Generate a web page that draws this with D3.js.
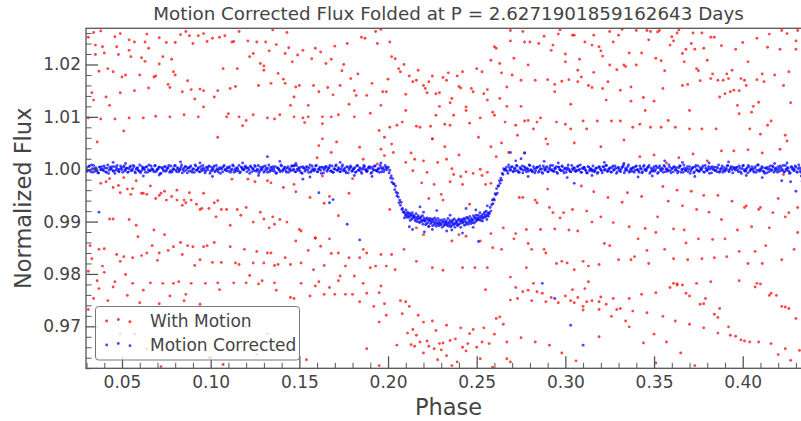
<!DOCTYPE html>
<html>
<head>
<meta charset="utf-8">
<script src="https://cdn.jsdelivr.net/npm/d3@7"></script>
<style>
  body { margin: 0; background: #fff; }
  svg text { font-family: "DejaVu Sans", sans-serif; fill: #444; }
</style>
</head>
<body>
<svg id="chart" width="801" height="421"></svg>
<script>
const title = "Motion Corrected Flux Folded at P = 2.6271901859162643 Days";
const xLabel = "Phase";
const yLabel = "Normalized Flux";
const seriesNames = ["With Motion", "Motion Corrected"];
const seriesColors = ["#ff0000", "#0000ff"];

const phaseRange = [0.0297, 0.4385];
const fluxRange = [0.96198, 1.02691];
const xTicks = [0.05, 0.10, 0.15, 0.20, 0.25, 0.30, 0.35, 0.40];
const yTicks = [0.97, 0.98, 0.99, 1.00, 1.01, 1.02];

// red: flux with the motion systematics left in
const withMotion = [
[.031,1.0252],[.034,1.0261],[.038,1.0264],[.035,1.0237],[.035,1.0219],[.037,1.0187],[.033,1.0146],[.034,1.0132],[.031,1.0098],[.038,1.0096],
[.041,1.0138],[.043,1.0122],[.040,1.0222],[.039,1.0234],[.042,1.0192],[.045,1.0186],[.046,1.0253],[.048,1.0219],[.047,1.0234],[.049,1.0259],
[.050,1.0176],[.052,1.0180],[.049,1.0146],[.046,1.0096],[.051,1.0073],[.054,1.0098],[.054,1.0227],[.054,1.0247],[.055,1.0215],[.057,1.0150],
[.057,1.0243],[.060,1.0180],[.061,1.0213],[.062,1.0098],[.063,1.0243],[.064,1.0258],[.063,1.0206],[.065,1.0155],[.065,1.0231],[.068,1.0176],
[.069,1.0178],[.069,1.0101],[.071,1.0251],[.071,1.0201],[.073,1.0215],[.075,1.0242],[.076,1.0162],[.077,1.0156],[.077,1.0100],[.078,1.0210],
[.079,1.0186],[.080,1.0180],[.080,1.0242],[.083,1.0257],[.084,1.0148],[.085,1.0104],[.086,1.0263],[.087,1.0169],[.088,1.0255],[.090,1.0240],
[.089,1.0152],[.091,1.0134],[.093,1.0100],[.093,1.0255],[.094,1.0153],[.096,1.0150],[.096,1.0119],[.098,1.0244],[.096,1.0259],[.101,1.0250],
[.102,1.0138],[.104,1.0150],[.104,1.0061],[.105,1.0252],[.107,1.0192],[.108,1.0255],[.109,1.0100],[.110,1.0106],[.111,1.0154],[.112,1.0243],
[.113,1.0244],[.114,1.0158],[.115,1.0192],[.116,1.0263],[.116,1.0100],[.118,1.0083],[.120,1.0093],[.121,1.0245],[.122,1.0215],[.124,1.0104],
[.124,1.0221],[.126,1.0243],[.127,1.0160],[.128,1.0202],[.130,1.0197],[.131,1.0243],[.132,1.0098],[.130,1.0189],[.133,1.0226],[.134,1.0164],
[.135,1.0266],[.137,1.0238],[.136,1.0096],[.138,1.0183],[.139,1.0104],[.141,1.0172],[.142,1.0221],[.142,1.0164],[.143,1.0261],[.144,1.0232],
[.145,1.0122],[.146,1.0205],[.147,1.0138],[.147,1.0100],[.148,1.0157],[.149,1.0218],[.150,1.0160],[.152,1.0098],[.152,1.0227],[.153,1.0089],
[.155,1.0100],[.155,1.0122],[.157,1.0211],[.158,1.0160],[.159,1.0231],[.161,1.0148],[.162,1.0224],[.163,1.0100],[.163,1.0087],[.165,1.0202],
[.166,1.0156],[.168,1.0210],[.168,1.0100],[.169,1.0142],[.170,1.0235],[.172,1.0104],[.173,1.0160],[.174,1.0188],[.175,1.0200],[.177,1.0240],
[.178,1.0124],[.179,1.0173],[.181,1.0100],[.181,1.0150],[.182,1.0141],[.183,1.0182],[.185,1.0252],[.187,1.0250],[.188,1.0141],[.190,1.0107],
[.191,1.0164],[.193,1.0263],[.194,1.0240],[.196,1.0122],[.197,1.0148],[.199,1.0148],[.200,1.0172],[.201,1.0243],[.202,1.0215],[.204,1.0211],
[.206,1.0192],[.196,1.0267],[.198,1.0061],[.195,1.0074],[.201,1.0080],[.205,1.0084],[.163,1.0058],
[.209,1.0200],[.207,1.0186],[.212,1.0178],[.214,1.0167],[.216,1.0170],[.217,1.0189],[.210,1.0143],[.210,1.0112],[.208,1.0090],[.216,1.0082],
[.218,1.0080],[.220,1.0160],[.221,1.0154],[.222,1.0146],[.223,1.0167],[.225,1.0178],[.224,1.0082],[.225,1.0058],[.227,1.0144],[.229,1.0146],
[.229,1.0120],[.227,1.0103],[.231,1.0175],[.232,1.0086],[.233,1.0170],[.234,1.0184],[.235,1.0127],[.236,1.0135],[.235,1.0084],[.237,1.0103],
[.239,1.0178],[.240,1.0158],[.241,1.0155],[.242,1.0186],[.244,1.0112],[.244,1.0119],[.246,1.0088],[.247,1.0154],[.248,1.0148],[.250,1.0192],
[.251,1.0061],[.252,1.0098],[.253,1.0186],[.254,1.0144],[.256,1.0152],[.256,1.0132],[.258,1.0208],[.259,1.0109],[.260,1.0103],[.260,1.0234],
[.261,1.0231],[.263,1.0202],[.263,1.0135],[.264,1.0184],[.266,1.0090],[.267,1.0157],[.267,1.0120],[.269,1.0245],[.269,1.0265],[.271,1.0212],
[.272,1.0084],[.270,1.0180],[.273,1.0065],[.275,1.0170],[.275,1.0120],[.276,1.0263],[.277,1.0092],[.277,1.0243],[.279,1.0199],[.279,1.0093],
[.280,1.0243],[.282,1.0077],[.283,1.0170],[.284,1.0090],[.285,1.0240],[.286,1.0098],[.288,1.0254],[.289,1.0058],[.290,1.0171],[.292,1.0227],
[.293,1.0237],[.294,1.0162],[.294,1.0148],[.295,1.0090],[.296,1.0258],[.297,1.0266],[.298,1.0168],[.300,1.0205],[.300,1.0220],[.300,1.0086],
[.302,1.0171],[.303,1.0124],[.303,1.0077],[.304,1.0256],[.305,1.0256],[.307,1.0167],[.307,1.0189],[.308,1.0210],[.309,1.0176],[.310,1.0092],
[.311,1.0243],[.312,1.0077],[.313,1.0160],[.315,1.0237],[.315,1.0156],[.316,1.0185],[.316,1.0256],[.318,1.0092],[.319,1.0234],[.320,1.0226],
[.321,1.0216],[.321,1.0154],[.323,1.0132],[.324,1.0167],[.325,1.0263],[.325,1.0199],[.326,1.0092],[.327,1.0243],[.329,1.0190],[.330,1.0256],
[.331,1.0151],[.331,1.0092],[.332,1.0267],[.333,1.0199],[.334,1.0196],[.336,1.0222],[.337,1.0157],[.337,1.0130],[.338,1.0080],[.340,1.0265],
[.340,1.0199],[.342,1.0086],[.343,1.0222],[.344,1.0137],[.345,1.0112],[.346,1.0265],[.347,1.0247],[.348,1.0080],[.348,1.0263],[.350,1.0130],
[.351,1.0212],[.352,1.0262],[.353,1.0265],[.354,1.0207],[.354,1.0080],[.355,1.0154],[.356,1.0188],[.358,1.0093],[.359,1.0237],[.360,1.0253],
[.361,1.0245],[.362,1.0080],[.363,1.0260],[.364,1.0266],[.366,1.0160],[.366,1.0221],[.367,1.0205],[.368,1.0229],[.369,1.0162],[.370,1.0112],
[.370,1.0077],[.371,1.0240],[.372,1.0260],[.373,1.0229],[.374,1.0192],[.375,1.0188],[.376,1.0169],[.377,1.0260],[.377,1.0077],[.378,1.0231],
[.380,1.0208],[.382,1.0252],[.382,1.0173],[.383,1.0182],[.384,1.0252],[.385,1.0077],[.386,1.0170],[.387,1.0138],[.388,1.0236],[.389,1.0170],
[.390,1.0144],[.391,1.0182],[.392,1.0173],[.393,1.0148],[.394,1.0189],[.395,1.0151],[.396,1.0229],[.397,1.0122],[.398,1.0106],[.398,1.0150],
[.399,1.0173],[.400,1.0242],[.401,1.0170],[.402,1.0160],[.403,1.0205],[.404,1.0077],[.405,1.0109],[.406,1.0120],[.408,1.0171],[.408,1.0250],
[.409,1.0128],[.410,1.0067],[.411,1.0182],[.412,1.0167],[.414,1.0233],[.414,1.0084],[.415,1.0258],[.416,1.0092],[.418,1.0180],[.421,1.0229],
[.422,1.0265],[.423,1.0160],[.424,1.0065],[.425,1.0259],[.426,1.0186],[.427,1.0127],[.430,1.0229],[.430,1.0245],[.431,1.0265],
[.036,1.0052],[.038,.9973],[.041,.9976],[.043,.9982],[.045,.9965],[.048,.9969],[.049,.9955],[.051,.9984],[.053,.9962],[.055,.9952],
[.056,.9963],[.058,.9978],[.061,.9954],[.062,.9954],[.064,.9952],[.066,.9968],[.069,.9944],[.071,.9950],[.072,.9954],[.074,.9958],
[.075,.9941],[.078,.9948],[.081,.9960],[.081,.9941],[.084,.9931],[.085,.9941],[.086,.9936],[.088,.9955],[.089,.9941],[.092,.9933],
[.094,.9923],[.095,.9925],[.096,.9954],[.099,.9925],[.102,.9936],[.103,.9909],[.104,.9940],[.106,.9923],[.109,.9923],[.111,.9893],
[.112,.9981],[.115,.9923],[.117,.9912],[.120,.9927],[.121,.9981],[.124,.9899],[.125,.9976],[.128,.9918],[.130,.9905],[.132,.9978],
[.133,.9888],[.134,.9974],[.135,.9909],[.136,.9895],[.139,.9904],[.141,.9965],[.143,.9899],[.147,1.0006],[.147,.9971],[.148,.9957],
[.150,.9885],[.151,.9882],[.156,.9946],[.159,.9869],[.160,1.0022],[.161,1.0045],[.163,.9987],[.164,.9935],[.167,.9948],[.168,1.0032],
[.171,1.0052],[.172,.9911],[.178,.9954],[.180,.9982],[.184,1.0042],[.186,1.0019],[.188,.9995],[.194,1.0010],[.196,1.0038],[.198,1.0026],
[.201,.9923],[.202,1.0048],[.203,1.0032],
[.032,.9854],[.037,.9847],[.033,.9829],[.040,.9848],[.039,.9815],[.031,.9805],[.040,.9803],[.043,.9905],[.045,.9905],[.047,.9837],
[.049,.9824],[.051,.9833],[.052,.9799],[.054,.9904],[.056,.9831],[.058,.9893],[.059,.9871],[.061,.9835],[.064,.9840],[.067,.9854],
[.068,.9884],[.070,.9826],[.071,.9840],[.074,.9875],[.076,.9845],[.079,.9852],[.083,.9860],[.084,.9837],[.087,.9854],[.090,.9852],
[.091,.9816],[.094,.9827],[.096,.9852],[.098,.9854],[.101,.9822],[.102,.9860],[.106,.9822],[.111,.9852],[.114,.9821],[.116,.9818],
[.119,.9847],[.122,.9797],[.124,.9821],[.126,.9843],[.130,.9821],[.132,.9840],[.134,.9840],[.136,.9816],[.138,.9818],[.142,.9831],
[.145,.9818],[.148,.9863],[.151,.9821],[.155,.9845],[.158,.9808],[.159,.9868],[.162,.9853],[.164,.9816],[.167,.9867],[.168,.9839],
[.172,.9840],[.173,.9796],[.176,.9815],[.178,.9831],[.181,.9796],[.184,.9831],[.186,.9847],[.188,.9840],[.190,.9812],[.193,.9815],
[.196,.9837],[.199,.9815],[.202,.9837],[.204,.9808],
[.210,1.0013],[.213,1.0031],[.215,1.0019],[.214,.9997],[.219,.9974],[.220,1.0016],[.222,.9994],[.223,.9944],[.225,1.0058],[.226,.9971],
[.228,1.0013],[.230,.9952],[.231,.9941],[.232,1.0043],[.233,1.0019],[.235,.9976],[.236,1.0001],[.237,.9990],[.240,1.0027],[.241,.9986],
[.242,.9971],[.244,.9995],[.246,.9933],[.248,.9992],[.252,1.0000],[.253,.9988],[.255,.9971],[.256,.9994],[.258,1.0043],[.258,.9973],
[.261,1.0024],[.264,1.0050],[.209,.9847],[.216,.9888],[.220,.9875],[.223,.9890],[.216,.9824],[.225,.9812],[.231,.9807],[.236,.9863],
[.240,.9875],[.242,.9812],[.244,.9872],[.249,.9812],[.252,.9863],[.256,.9812],[.258,.9877],[.259,.9850],[.264,.9847],[.265,.9888],
[.269,.9794],[.271,.9867],[.272,.9877],[.274,.9946],[.276,.9946],[.278,.9812],[.278,.9885],[.279,.9858],[.281,.9847],[.283,.9941],
[.284,.9936],[.286,.9885],[.288,.9847],[.289,.9840],[.290,.9962],[.291,.9927],[.293,.9917],[.294,.9886],[.295,.9820],[.297,.9907],
[.298,.9824],[.299,.9917],[.301,.9821],[.302,.9884],[.304,.9923],[.305,.9808],[.307,.9882],[.309,.9968],[.310,.9824],[.312,.9920],
[.313,.9815],[.315,.9899],[.316,.9957],[.319,.9818],[.320,.9909],[.322,.9858],[.324,.9946],[.325,.9854],[.327,.9898],[.330,.9827],
[.332,.9937],[.335,.9955],[.336,.9890],[.337,.9827],[.339,.9833],[.341,.9867],[.343,.9948],[.345,.9887],[.346,.9845],[.347,.9820],
[.351,.9879],[.352,.9909],[.355,.9967],[.356,.9847],[.358,.9939],[.361,.9829],[.361,.9886],[.363,.9960],[.366,.9930],[.367,.9884],
[.368,.9859],[.369,.9827],[.371,.9958],[.374,.9923],[.375,.9867],[.377,.9829],[.378,.9950],[.381,.9918],[.383,.9866],[.384,.9831],
[.386,.9950],[.388,.9904],[.390,.9867],[.391,.9833],[.394,.9939],[.397,.9884],[.398,.9843],[.401,.9927],[.402,.9930],[.403,.9820],
[.405,.9890],[.407,.9843],[.409,.9923],[.410,.9927],[.411,.9820],[.413,.9854],[.415,.9888],[.417,.9917],[.420,.9944],[.422,.9827],
[.424,.9909],[.426,.9917],[.429,.9847],[.431,.9879],[.431,.9927],
[.268,1.0032],[.277,1.0031],[.290,1.0048],[.305,1.0050],[.320,1.0043],[.333,1.0056],[.342,1.0024],[.350,1.0027],[.357,1.0012],[.364,1.0022],
[.372,1.0029],[.380,1.0016],[.388,1.0035],[.395,1.0035],[.403,1.0037],[.411,1.0031],[.421,1.0038],[.425,1.0054],[.423,.9990],
[.031,.9732],[.034,.9753],[.036,.9787],[.037,.9772],[.042,.9749],[.041,.9710],[.045,.9775],[.046,.9785],[.048,.9713],[.053,.9759],
[.054,.9708],[.056,.9782],[.060,.9745],[.062,.9769],[.066,.9783],[.071,.9743],[.073,.9782],[.077,.9758],[.079,.9782],[.082,.9785],
[.085,.9749],[.086,.9761],[.089,.9782],[.094,.9742],[.097,.9782],[.104,.9783],[.105,.9770],[.107,.9627],[.113,.9783],[.120,.9783],
[.127,.9781],[.129,.9787],[.137,.9769],[.136,.9783],[.145,.9755],[.147,.9753],[.151,.9782],[.156,.9758],[.159,.9777],[.161,.9785],
[.164,.9761],[.167,.9774],[.170,.9761],[.172,.9787],[.176,.9761],[.180,.9761],[.184,.9747],[.186,.9782],[.188,.9763],[.192,.9738],
[.195,.9708],[.195,.9764],[.196,.9777],[.199,.9721],[.198,.9743],[.188,.9657],[.195,.9625],[.154,.9636],[.126,.9646],[.072,.9623],
[.132,.9686],[.120,.9699],[.205,.9664],[.049,.9686],[.057,.9685],[.064,.9657],[.099,.9640],
[.207,.9749],[.210,.9747],[.212,.9738],[.208,.9724],[.211,.9687],[.214,.9694],[.216,.9683],[.213,.9665],[.215,.9662],[.217,.9721],
[.218,.9670],[.220,.9708],[.220,.9649],[.222,.9672],[.223,.9662],[.225,.9710],[.226,.9657],[.227,.9692],[.228,.9636],[.229,.9667],
[.230,.9655],[.231,.9668],[.233,.9702],[.233,.9644],[.235,.9673],[.236,.9625],[.238,.9676],[.239,.9632],[.241,.9697],[.242,.9660],
[.244,.9653],[.245,.9667],[.246,.9686],[.248,.9694],[.250,.9660],[.252,.9638],[.253,.9670],[.254,.9697],[.255,.9770],[.257,.9667],
[.259,.9622],[.260,.9685],[.261,.9715],[.263,.9718],[.265,.9704],[.267,.9638],[.267,.9670],[.269,.9750],[.269,.9632],[.272,.9774],
[.273,.9753],[.275,.9678],[.276,.9766],[.279,.9769],[.281,.9749],[.282,.9782],[.283,.9670],[.284,.9766],[.287,.9763],[.289,.9747],
[.291,.9664],[.292,.9755],[.296,.9745],[.298,.9649],[.300,.9758],[.303,.9749],[.304,.9770],[.305,.9745],[.306,.9634],[.307,.9755],
[.310,.9738],[.310,.9731],[.311,.9772],[.312,.9747],[.313,.9785],[.315,.9749],[.319,.9732],[.319,.9747],[.319,.9680],[.320,.9756],
[.323,.9742],[.326,.9719],[.327,.9753],[.329,.9732],[.331,.9734],[.334,.9710],[.336,.9753],[.336,.9699],[.338,.9729],[.343,.9761],
[.344,.9668],[.346,.9726],[.350,.9685],[.351,.9764],[.351,.9630],[.355,.9719],[.357,.9670],[.359,.9774],[.361,.9782],[.363,.9779],
[.363,.9781],[.362,.9710],[.365,.9649],[.366,.9779],[.368,.9763],[.370,.9758],[.370,.9704],[.373,.9625],[.374,.9782],[.376,.9742],
[.378,.9697],[.378,.9743],[.379,.9753],[.382,.9785],[.384,.9723],[.386,.9687],[.386,.9717],[.387,.9734],[.392,.9699],[.393,.9683],
[.396,.9681],[.399,.9674],[.401,.9672],[.404,.9670],[.407,.9775],[.408,.9782],[.410,.9781],[.409,.9670],[.415,.9759],[.416,.9763],
[.416,.9667],[.419,.9759],[.420,.9646],[.422,.9738],[.424,.9737],[.426,.9734],[.424,.9657],[.427,.9635],[.430,.9715],[.432,.9654],
[.398,.9787]
];

// blue: motion corrected flux, out-of-transit baseline before the dip
const correctedBefore = [
[.0300,1.0003],[.0308,.9998],[.0316,1.0006],[.0324,.9995],[.0332,1.0001],[.0340,1.0007],[.0348,.9996],[.0356,1.0000],[.0364,.9993],[.0372,1.0004],
[.0380,.9999],[.0388,1.0005],[.0396,.9997],[.0404,1.0002],[.0412,.9994],[.0420,1.0008],[.0428,.9998],[.0436,1.0001],[.0444,1.0005],[.0452,.9996],
[.0460,.9992],[.0468,1.0003],[.0476,1.0000],[.0484,.9995],[.0492,1.0006],[.0500,.9999],[.0508,1.0004],[.0516,.9997],[.0524,1.0002],[.0532,.9994],
[.0540,1.0001],[.0548,1.0006],[.0556,.9998],[.0564,1.0007],[.0572,.9995],[.0580,1.0000],[.0588,1.0003],[.0596,.9996],[.0604,.9993],[.0612,1.0005],
[.0620,1.0002],[.0628,.9999],[.0636,1.0004],[.0644,.9994],[.0652,1.0008],[.0660,.9997],[.0668,1.0001],[.0676,.9998],[.0684,1.0006],[.0692,.9995],
[.0700,1.0000],[.0708,1.0004],[.0716,.9992],[.0724,1.0003],[.0732,.9999],[.0740,1.0005],[.0748,.9996],[.0756,1.0002],[.0764,1.0007],[.0772,.9997],
[.0780,.9994],[.0788,1.0001],[.0796,1.0006],[.0804,.9998],[.0812,1.0003],[.0820,.9995],[.0828,1.0000],[.0836,1.0008],[.0844,.9999],[.0852,.9996],
[.0860,1.0005],[.0868,.9993],[.0876,1.0002],[.0884,1.0004],[.0892,.9997],[.0900,1.0001],[.0908,.9994],[.0916,1.0006],[.0924,.9998],[.0932,1.0003],
[.0940,.9995],[.0948,1.0000],[.0956,1.0007],[.0964,.9999],[.0972,.9996],[.0980,1.0002],[.0988,1.0005],[.0996,.9992],[.1004,1.0004],[.1012,.9998],
[.1020,1.0006],[.1028,.9997],[.1036,1.0001],[.1044,.9994],[.1052,1.0003],[.1060,1.0000],[.1068,.9995],[.1076,1.0007],[.1084,.9999],[.1092,1.0002],
[.1100,.9996],[.1108,1.0005],[.1116,.9998],[.1124,1.0008],[.1132,.9994],[.1140,1.0001],[.1148,1.0003],[.1156,.9997],[.1164,.9993],[.1172,1.0004],
[.1180,1.0000],[.1188,.9999],[.1196,1.0006],[.1204,.9995],[.1212,1.0002],[.1220,.9992],[.1228,1.0004],[.1236,1.0001],[.1244,.9997],[.1252,1.0005],
[.1260,.9998],[.1268,1.0007],[.1276,.9996],[.1284,1.0000],[.1292,1.0003],[.1300,.9994],[.1308,1.0006],[.1316,.9999],[.1324,1.0002],[.1332,.9995],
[.1340,1.0004],[.1348,.9997],[.1356,1.0001],[.1364,1.0005],[.1372,.9993],[.1380,1.0002],[.1388,.9998],[.1396,1.0008],[.1404,.9996],[.1412,1.0000],
[.1420,1.0003],[.1428,.9994],[.1436,1.0005],[.1444,.9999],[.1452,.9997],[.1460,1.0006],[.1468,1.0000],[.1476,.9995],[.1484,1.0007],[.1492,.9998],
[.1500,1.0001],[.1508,1.0004],[.1516,.9992],[.1524,1.0002],[.1532,.9996],[.1540,1.0005],[.1548,.9999],[.1556,1.0003],[.1564,.9994],[.1572,1.0006],
[.1580,.9997],[.1588,1.0000],[.1596,1.0007],[.1604,.9995],[.1612,1.0001],[.1620,.9998],[.1628,1.0004],[.1636,.9993],[.1644,1.0002],[.1652,1.0005],
[.1660,.9999],[.1668,1.0003],[.1676,.9996],[.1684,1.0006],[.1692,.9994],[.1700,1.0000],[.1708,1.0008],[.1716,.9998],[.1724,1.0001],[.1732,.9995],
[.1740,1.0005],[.1748,.9997],[.1756,1.0002],[.1764,.9993],[.1772,1.0004],[.1780,.9999],[.1788,1.0006],[.1796,.9996],[.1804,1.0000],[.1812,1.0003],
[.1820,.9995],[.1828,1.0007],[.1836,.9998],[.1844,1.0001],[.1852,.9992],[.1860,1.0003],[.1868,1.0005],[.1876,.9999],[.1884,.9997],[.1892,1.0004],
[.1900,1.0002],[.1908,.9994],[.1916,1.0000],[.1924,1.0006],[.1932,.9998],[.1940,.9996],[.1948,1.0001],[.1956,1.0007],[.1964,.9995],[.1972,1.0003],
[.1980,.9999],[.1988,1.0004],[.1996,1.0002],
[.0304,.9996],[.0312,1.0005],[.0320,.9998],[.0328,1.0008],[.0336,.9994],[.0344,1.0001],[.0352,1.0003],[.0360,.9997],[.0368,.9993],[.0376,1.0004],
[.0384,1.0000],[.0392,.9999],[.0400,1.0006],[.0408,.9995],[.0416,1.0002],[.0424,.9992],[.0432,1.0004],[.0440,1.0001],[.0448,.9997],[.0456,1.0005],
[.0464,.9998],[.0472,1.0007],[.0480,.9996],[.0488,1.0000],[.0496,1.0003],[.0504,.9994],[.0512,1.0006],[.0520,.9999],[.0528,1.0002],[.0536,.9995],
[.0544,1.0004],[.0552,.9997],[.0560,1.0001],[.0568,1.0005],[.0576,.9993],[.0584,1.0002],[.0592,.9998],[.0600,1.0008],[.0608,.9996],[.0616,1.0000],
[.0624,1.0003],[.0632,.9994],[.0640,1.0005],[.0648,.9999],[.0656,.9997],[.0664,1.0006],[.0672,1.0000],[.0680,.9995],[.0688,1.0007],[.0696,.9998],
[.0704,1.0001],[.0712,1.0004],[.0720,.9992],[.0728,1.0002],[.0736,.9996],[.0744,1.0005],[.0752,.9999],[.0760,1.0003],[.0768,.9994],[.0776,1.0006],
[.0784,.9997],[.0792,1.0000],[.0800,1.0007],[.0808,.9995],[.0816,1.0001],[.0824,.9998],[.0832,1.0004],[.0840,.9993],[.0848,1.0002],[.0856,1.0005],
[.0864,.9999],[.0872,1.0003],[.0880,.9996],[.0888,1.0006],[.0896,.9994],[.0904,1.0000],[.0912,1.0008],[.0920,.9998],[.0928,1.0001],[.0936,.9995],
[.0944,1.0005],[.0952,.9997],[.0960,1.0002],[.0968,.9993],[.0976,1.0004],[.0984,.9999],[.0992,1.0006],[.1000,.9996],[.1008,1.0000],[.1016,1.0003],
[.1024,.9995],[.1032,1.0007],[.1040,.9998],[.1048,1.0001],[.1056,.9992],[.1064,1.0003],[.1072,1.0005],[.1080,.9999],[.1088,.9997],[.1096,1.0004],
[.1104,1.0002],[.1112,.9994],[.1120,1.0000],[.1128,1.0006],[.1136,.9998],[.1144,.9996],[.1152,1.0001],[.1160,1.0007],[.1168,.9995],[.1176,1.0003],
[.1184,.9999],[.1192,1.0004],[.1200,1.0002],[.1208,1.0003],[.1216,.9998],[.1224,1.0006],[.1232,.9995],[.1240,1.0001],[.1248,1.0007],[.1256,.9996],
[.1264,1.0000],[.1272,.9993],[.1280,1.0004],[.1288,.9999],[.1296,1.0005],[.1304,.9997],[.1312,1.0002],[.1320,.9994],[.1328,1.0008],[.1336,.9998],
[.1344,1.0001],[.1352,1.0005],[.1360,.9996],[.1368,.9992],[.1376,1.0003],[.1384,1.0000],[.1392,.9995],[.1400,1.0006],[.1408,.9999],[.1416,1.0004],
[.1424,.9997],[.1432,1.0002],[.1440,.9994],[.1448,1.0001],[.1456,1.0006],[.1464,.9998],[.1472,1.0007],[.1480,.9995],[.1488,1.0000],[.1496,1.0003],
[.1504,.9996],[.1512,.9993],[.1520,1.0005],[.1528,1.0002],[.1536,.9999],[.1544,1.0004],[.1552,.9994],[.1560,1.0008],[.1568,.9997],[.1576,1.0001],
[.1584,.9998],[.1592,1.0006],[.1600,.9995],[.1608,1.0000],[.1616,1.0004],[.1624,.9992],[.1632,1.0003],[.1640,.9999],[.1648,1.0005],[.1656,.9996],
[.1664,1.0002],[.1672,1.0007],[.1680,.9997],[.1688,.9994],[.1696,1.0001],[.1704,1.0006],[.1712,.9998],[.1720,1.0003],[.1728,.9995],[.1736,1.0000],
[.1744,1.0008],[.1752,.9999],[.1760,.9996],[.1768,1.0005],[.1776,.9993],[.1784,1.0002],[.1792,1.0004],[.1800,.9997],[.1808,1.0001],[.1816,.9994],
[.1824,1.0006],[.1832,.9998],[.1840,1.0003],[.1848,.9995],[.1856,1.0000],[.1864,1.0007],[.1872,.9999],[.1880,.9996],[.1888,1.0002],[.1896,1.0005],
[.1904,.9992],[.1912,1.0004],[.1920,.9998],[.1928,1.0006],[.1936,.9997],[.1944,1.0001],[.1952,.9994],[.1960,1.0003],[.1968,1.0000],[.1976,.9995],
[.1984,1.0007],[.1992,.9999]
];

// blue: ingress, transit floor and egress
const correctedTransit = [
[.2002,1.0004],[.2006,.9993],[.2010,.9998],[.2014,.9983],[.2018,.9987],[.2022,.9975],[.2026,.9982],[.2030,.9972],[.2034,.9972],[.2038,.9961],
[.2042,.9968],[.2046,.9956],[.2050,.9949],[.2054,.9954],[.2058,.9947],[.2062,.9936],[.2066,.9941],[.2070,.9931],[.2074,.9937],[.2078,.9923],
[.2082,.9925],[.2086,.9918],
[.2089,.9919],[.2092,.9907],[.2095,.9916],[.2098,.9911],[.2101,.9922],[.2104,.9913],[.2107,.9908],[.2110,.9918],[.2113,.9914],[.2116,.9910],
[.2119,.9908],[.2122,.9916],[.2125,.9902],[.2128,.9913],[.2131,.9911],[.2134,.9905],[.2137,.9917],[.2140,.9907],[.2143,.9912],[.2146,.9909],
[.2149,.9910],[.2152,.9902],[.2155,.9906],[.2158,.9915],[.2161,.9900],[.2164,.9908],[.2167,.9904],[.2170,.9911],[.2173,.9899],[.2176,.9907],
[.2179,.9898],[.2182,.9906],[.2185,.9909],[.2188,.9902],[.2191,.9900],[.2194,.9911],[.2197,.9895],[.2200,.9903],[.2203,.9907],[.2206,.9901],
[.2209,.9901],[.2212,.9894],[.2215,.9905],[.2218,.9896],[.2221,.9907],[.2224,.9898],[.2227,.9903],[.2230,.9891],[.2233,.9902],[.2236,.9906],
[.2239,.9896],[.2242,.9901],[.2245,.9898],[.2248,.9905],[.2251,.9892],[.2254,.9903],[.2257,.9899],[.2260,.9894],[.2263,.9907],[.2266,.9897],
[.2269,.9903],[.2272,.9891],[.2275,.9900],[.2278,.9895],[.2281,.9906],[.2284,.9897],[.2287,.9892],[.2290,.9902],[.2293,.9898],[.2296,.9894],
[.2299,.9895],[.2302,.9903],[.2305,.9889],[.2308,.9900],[.2311,.9898],[.2314,.9892],[.2317,.9904],[.2320,.9894],[.2323,.9899],[.2326,.9896],
[.2329,.9901],[.2332,.9893],[.2335,.9897],[.2338,.9906],[.2341,.9891],[.2344,.9899],[.2347,.9895],[.2350,.9902],[.2353,.9890],[.2356,.9898],
[.2359,.9892],[.2362,.9900],[.2365,.9903],[.2368,.9896],[.2371,.9894],[.2374,.9905],[.2377,.9889],[.2380,.9897],[.2383,.9901],[.2386,.9895],
[.2389,.9899],[.2392,.9892],[.2395,.9903],[.2398,.9894],[.2401,.9905],[.2404,.9896],[.2407,.9901],[.2410,.9889],[.2413,.9900],[.2416,.9904],
[.2419,.9897],[.2422,.9902],[.2425,.9899],[.2428,.9906],[.2431,.9893],[.2434,.9904],[.2437,.9900],[.2440,.9895],[.2443,.9908],[.2446,.9898],
[.2449,.9907],[.2452,.9895],[.2455,.9904],[.2458,.9899],[.2461,.9910],[.2464,.9901],[.2467,.9896],[.2470,.9906],[.2473,.9902],[.2476,.9898],
[.2479,.9903],[.2482,.9911],[.2485,.9897],[.2488,.9908],[.2491,.9906],[.2494,.9900],[.2497,.9912],[.2500,.9902],[.2503,.9907],[.2506,.9904],
[.2509,.9912],[.2512,.9904],[.2515,.9908],[.2518,.9917],[.2521,.9902],[.2524,.9910],[.2527,.9906],[.2530,.9913],[.2533,.9901],[.2536,.9909],
[.2539,.9907],[.2542,.9915],[.2545,.9918],[.2548,.9911],[.2551,.9909],[.2554,.9920],[.2557,.9904],[.2560,.9912],[.2563,.9916],[.2566,.9910],
[.2569,.9917],
[.2572,.9915],[.2576,.9927],[.2580,.9920],[.2584,.9932],[.2588,.9941],[.2592,.9934],[.2596,.9943],[.2600,.9941],[.2604,.9953],[.2608,.9951],
[.2612,.9963],[.2616,.9954],[.2620,.9968],[.2624,.9968],[.2628,.9978],[.2632,.9973],[.2636,.9983],[.2640,.9979],[.2644,.9992],[.2648,.9990],
[.2652,1.0001],[.2656,.9998],
[.2138,.9885],[.2205,.9880],[.2331,.9882],[.2420,.9878],[.2510,.9862],[.2275,.9921],[.2440,.9925],[.2180,.9928],[.2560,.9930]
];

// blue: baseline after the dip
const correctedAfter = [
[.2660,1.0000],[.2668,1.0004],[.2676,.9992],[.2684,1.0003],[.2692,.9999],[.2700,1.0005],[.2708,.9996],[.2716,1.0002],[.2724,1.0007],[.2732,.9997],
[.2740,.9994],[.2748,1.0001],[.2756,1.0006],[.2764,.9998],[.2772,1.0003],[.2780,.9995],[.2788,1.0000],[.2796,1.0008],[.2804,.9999],[.2812,.9996],
[.2820,1.0005],[.2828,.9993],[.2836,1.0002],[.2844,1.0004],[.2852,.9997],[.2860,1.0001],[.2868,.9994],[.2876,1.0006],[.2884,.9998],[.2892,1.0003],
[.2900,.9995],[.2908,1.0000],[.2916,1.0007],[.2924,.9999],[.2932,.9996],[.2940,1.0002],[.2948,1.0005],[.2956,.9992],[.2964,1.0004],[.2972,.9998],
[.2980,1.0006],[.2988,.9997],[.2996,1.0001],[.3004,.9994],[.3012,1.0003],[.3020,1.0000],[.3028,.9995],[.3036,1.0007],[.3044,.9999],[.3052,1.0002],
[.3060,.9996],[.3068,1.0005],[.3076,.9998],[.3084,1.0008],[.3092,.9994],[.3100,1.0001],[.3108,1.0003],[.3116,.9997],[.3124,.9993],[.3132,1.0004],
[.3140,1.0000],[.3148,.9999],[.3156,1.0006],[.3164,.9995],[.3172,1.0002],[.3180,.9992],[.3188,1.0004],[.3196,1.0001],[.3204,.9997],[.3212,1.0005],
[.3220,.9998],[.3228,1.0007],[.3236,.9996],[.3244,1.0000],[.3252,1.0003],[.3260,.9994],[.3268,1.0006],[.3276,.9999],[.3284,1.0002],[.3292,.9995],
[.3300,1.0004],[.3308,.9997],[.3316,1.0001],[.3324,1.0005],[.3332,.9993],[.3340,1.0002],[.3348,.9998],[.3356,1.0008],[.3364,.9996],[.3372,1.0000],
[.3380,1.0003],[.3388,.9994],[.3396,1.0005],[.3404,.9999],[.3412,.9997],[.3420,1.0006],[.3428,1.0000],[.3436,.9995],[.3444,1.0007],[.3452,.9998],
[.3460,1.0001],[.3468,1.0004],[.3476,.9992],[.3484,1.0002],[.3492,.9996],[.3500,1.0005],[.3508,.9999],[.3516,1.0003],[.3524,.9994],[.3532,1.0006],
[.3540,.9997],[.3548,1.0000],[.3556,1.0007],[.3564,.9995],[.3572,1.0001],[.3580,.9998],[.3588,1.0004],[.3596,.9993],[.3604,1.0002],[.3612,1.0005],
[.3620,.9999],[.3628,1.0003],[.3636,.9996],[.3644,1.0006],[.3652,.9994],[.3660,1.0000],[.3668,1.0008],[.3676,.9998],[.3684,1.0001],[.3692,.9995],
[.3700,1.0005],[.3708,.9997],[.3716,1.0002],[.3724,.9993],[.3732,1.0004],[.3740,.9999],[.3748,1.0006],[.3756,.9996],[.3764,1.0000],[.3772,1.0003],
[.3780,.9995],[.3788,1.0007],[.3796,.9998],[.3804,1.0001],[.3812,.9992],[.3820,1.0003],[.3828,1.0005],[.3836,.9999],[.3844,.9997],[.3852,1.0004],
[.3860,1.0002],[.3868,.9994],[.3876,1.0000],[.3884,1.0006],[.3892,.9998],[.3900,.9996],[.3908,1.0001],[.3916,1.0007],[.3924,.9995],[.3932,1.0003],
[.3940,.9999],[.3948,1.0004],[.3956,1.0002],[.3964,1.0003],[.3972,.9998],[.3980,1.0006],[.3988,.9995],[.3996,1.0001],[.4004,1.0007],[.4012,.9996],
[.4020,1.0000],[.4028,.9993],[.4036,1.0004],[.4044,.9999],[.4052,1.0005],[.4060,.9997],[.4068,1.0002],[.4076,.9994],[.4084,1.0008],[.4092,.9998],
[.4100,1.0001],[.4108,1.0005],[.4116,.9996],[.4124,.9992],[.4132,1.0003],[.4140,1.0000],[.4148,.9995],[.4156,1.0006],[.4164,.9999],[.4172,1.0004],
[.4180,.9997],[.4188,1.0002],[.4196,.9994],[.4204,1.0001],[.4212,1.0006],[.4220,.9998],[.4228,1.0007],[.4236,.9995],[.4244,1.0000],[.4252,1.0003],
[.4260,.9996],[.4268,.9993],[.4276,1.0005],[.4284,1.0002],[.4292,.9999],[.4300,1.0004],[.4308,.9994],[.4316,1.0008],[.4324,.9997],[.4332,1.0001],
[.4340,.9998],[.4348,1.0006],[.4356,.9995],[.4364,1.0000],[.4372,1.0004],[.4380,.9992],
[.2664,.9999],[.2672,.9996],[.2680,1.0008],[.2688,.9998],[.2696,1.0004],[.2704,.9995],[.2712,1.0001],[.2720,.9997],[.2728,1.0006],[.2736,.9994],
[.2744,1.0003],[.2752,1.0000],[.2760,.9993],[.2768,1.0005],[.2776,.9999],[.2784,1.0002],[.2792,.9996],[.2800,1.0007],[.2808,.9998],[.2816,.9995],
[.2824,1.0001],[.2832,.9997],[.2840,1.0004],[.2848,.9994],[.2856,1.0006],[.2864,1.0000],[.2872,.9992],[.2880,1.0002],[.2888,.9999],[.2896,1.0005],
[.2904,.9995],[.2912,1.0003],[.2920,.9998],[.2928,1.0007],[.2936,.9996],[.2944,1.0001],[.2952,.9994],[.2960,1.0004],[.2968,1.0000],[.2976,.9997],
[.2984,1.0005],[.2992,.9993],[.3000,1.0002],[.3008,.9999],[.3016,1.0008],[.3024,.9997],[.3032,.9995],[.3040,1.0001],[.3048,1.0003],[.3056,.9996],
[.3064,.9998],[.3072,1.0006],[.3080,1.0000],[.3088,.9994],[.3096,1.0002],[.3104,1.0004],[.3112,.9999],[.3120,.9993],[.3128,1.0005],[.3136,.9997],
[.3144,1.0001],[.3152,.9996],[.3160,.9998],[.3168,.9997],[.3176,1.0002],[.3184,.9994],[.3192,1.0005],[.3200,.9999],[.3208,.9993],[.3216,1.0004],
[.3224,1.0000],[.3232,1.0007],[.3240,.9996],[.3248,1.0001],[.3256,.9995],[.3264,1.0003],[.3272,.9998],[.3280,1.0006],[.3288,.9992],[.3296,1.0002],
[.3304,.9999],[.3312,.9995],[.3320,1.0004],[.3328,1.0008],[.3336,.9997],[.3344,1.0000],[.3352,1.0005],[.3360,.9994],[.3368,1.0001],[.3376,.9996],
[.3384,1.0003],[.3392,.9998],[.3400,1.0006],[.3408,.9999],[.3416,.9994],[.3424,1.0002],[.3432,.9993],[.3440,1.0005],[.3448,1.0000],[.3456,.9997],
[.3464,1.0004],[.3472,1.0007],[.3480,.9995],[.3488,.9998],[.3496,1.0001],[.3504,.9996],[.3512,1.0006],[.3520,.9992],[.3528,1.0003],[.3536,.9999],
[.3544,1.0002],[.3552,.9994],[.3560,1.0005],[.3568,1.0000],[.3576,.9996],[.3584,1.0008],[.3592,.9997],[.3600,1.0001],[.3608,.9995],[.3616,1.0004],
[.3624,.9998],[.3632,.9993],[.3640,1.0003],[.3648,1.0006],[.3656,.9999],[.3664,.9994],[.3672,1.0002],[.3680,.9997],[.3688,1.0005],[.3696,1.0000],
[.3704,.9992],[.3712,1.0001],[.3720,1.0004],[.3728,.9995],[.3736,1.0007],[.3744,.9998],[.3752,.9996],[.3760,1.0003],[.3768,.9999],[.3776,1.0006],
[.3784,.9994],[.3792,1.0002],[.3800,.9997],[.3808,1.0005],[.3816,1.0000],[.3824,.9993],[.3832,1.0001],[.3840,1.0004],[.3848,.9998],[.3856,.9995],
[.3864,1.0008],[.3872,.9996],[.3880,1.0002],[.3888,.9994],[.3896,1.0003],[.3904,.9999],[.3912,1.0006],[.3920,.9997],[.3928,1.0000],[.3936,1.0005],
[.3944,.9993],[.3952,1.0001],[.3960,.9998],[.3968,1.0004],[.3976,.9995],[.3984,1.0002],[.3992,.9992],[.4000,1.0006],[.4008,.9999],[.4016,.9997],
[.4024,1.0003],[.4032,1.0007],[.4040,.9996],[.4048,1.0000],[.4056,1.0001],[.4064,.9994],[.4072,1.0005],[.4080,.9998],[.4088,1.0008],[.4096,.9996],
[.4104,.9999],[.4112,1.0003],[.4120,.9995],[.4128,1.0002],[.4136,.9993],[.4144,1.0004],[.4152,1.0000],[.4160,.9997],[.4168,1.0006],[.4176,.9994],
[.4184,1.0001],[.4192,.9998],[.4200,1.0005],[.4208,.9996],[.4216,1.0003],[.4224,.9999],[.4232,.9995],[.4240,1.0007],[.4248,.9998],[.4256,1.0002],
[.4264,.9992],[.4272,1.0004],[.4280,1.0000],[.4288,.9997],[.4296,1.0006],[.4304,.9995],[.4312,1.0001],[.4320,1.0003],[.4328,.9994],[.4336,1.0000],
[.4344,1.0005],[.4352,.9993],[.4360,1.0002],[.4368,.9999],[.4376,1.0004]
];

// blue points that sit away from the main curve
const correctedStray = [
[.037,.9918],[.132,1.0024],[.152,.9981],[.161,.9955],[.167,.9936],[.169,.9942],[.177,.9895],[.184,.9865],
[.269,1.0032],[.277,1.0031],[.272,1.0016],[.275,1.0020],[.305,.9973],[.422,.9978],[.430,.9958],[.427,.9976],[.4335,.9977],[.435,.9957],
[.287,.9782],[.294,.9753],[.303,.9702],[.310,.9664],
[.045,1.0013],[.062,.9987],[.083,1.0014],[.101,.9986],[.118,1.0012],[.139,1.0015],[.156,.9985],[.173,1.0013],[.191,.9986],
[.288,1.0015],[.301,.9984],[.322,1.0013],[.341,.9985],[.356,1.0016],[.373,.9986],[.392,1.0014],[.411,.9984],[.425,1.0012],[.279,.9986],[.366,1.0013],
[.052,1.0011],[.071,.9989],[.094,1.0012],[.127,.9988],[.148,1.0011],[.181,.9988],[.196,1.0012],
[.296,1.0012],[.315,.9988],[.333,1.0011],[.349,.9987],[.381,1.0012],[.402,.9988],[.418,1.0011],[.433,.9987],
[.2120,.9890],[.2250,.9885],[.2360,.9884],[.2480,.9889],[.2200,.9918],[.2350,.9912],[.2495,.9922]
];

const corrected = correctedBefore.concat(correctedTransit, correctedAfter, correctedStray);

// ---- layout (right edge of the axes falls just outside the window)
const plotLeft = 86, plotRight = 811, plotTop = 28.3, plotBottom = 368.3;
const dotRadius = 1.45;
const svg = d3.select("#chart");

const x = d3.scaleLinear().domain(phaseRange).range([plotLeft, plotRight]);
const y = d3.scaleLinear().domain(fluxRange).range([plotBottom, plotTop]);

svg.append("clipPath").attr("id", "plot-clip")
  .append("rect").attr("x", plotLeft).attr("y", plotTop)
  .attr("width", plotRight - plotLeft).attr("height", plotBottom - plotTop);

const plot = svg.append("g").attr("clip-path", "url(#plot-clip)");

plot.append("g").selectAll("circle")
  .data(withMotion)
  .join("circle")
  .attr("cx", (d) => x(d[0]))
  .attr("cy", (d) => y(d[1]))
  .attr("r", dotRadius)
  .attr("fill", seriesColors[0])
  .attr("fill-opacity", 0.72);

plot.append("g").selectAll("circle")
  .data(corrected)
  .join("circle")
  .attr("cx", (d) => x(d[0]))
  .attr("cy", (d) => y(d[1]))
  .attr("r", dotRadius)
  .attr("fill", seriesColors[1])
  .attr("fill-opacity", 0.72);

// ---- axes, ticks pointing inward
const fmt = d3.format(".2f");
const xMinor = d3.range(0.03, 0.44, 0.01).filter((v) => !xTicks.some((t) => Math.abs(t - v) < 1e-6));
const yMinor = d3.range(0.962, 1.027, 0.002).filter((v) => !yTicks.some((t) => Math.abs(t - v) < 1e-6));

function styleAxis(g, width) {
  g.select(".domain").remove();
  g.selectAll("line").attr("stroke", "#555").attr("stroke-width", width);
  g.selectAll("text").attr("font-family", "DejaVu Sans, sans-serif").attr("font-size", 17).attr("fill", "#444");
}

svg.append("g").attr("transform", `translate(0,${plotBottom})`)
  .call(d3.axisBottom(x).tickValues(xMinor).tickSize(-5.5).tickFormat(() => ""))
  .call((g) => styleAxis(g, 1));
svg.append("g").attr("transform", `translate(0,${plotBottom})`)
  .call(d3.axisBottom(x).tickValues(xTicks).tickSize(-12).tickPadding(7.5).tickFormat(fmt))
  .call((g) => styleAxis(g, 1.3));

svg.append("g").attr("transform", `translate(${plotLeft},0)`)
  .call(d3.axisLeft(y).tickValues(yMinor).tickSize(-5.5).tickFormat(() => ""))
  .call((g) => styleAxis(g, 1));
svg.append("g").attr("transform", `translate(${plotLeft},0)`)
  .call(d3.axisLeft(y).tickValues(yTicks).tickSize(-12).tickPadding(5).tickFormat(fmt))
  .call((g) => styleAxis(g, 1.3));

svg.append("rect")
  .attr("x", plotLeft).attr("y", plotTop)
  .attr("width", plotRight - plotLeft).attr("height", plotBottom - plotTop)
  .attr("fill", "none").attr("stroke", "#555").attr("stroke-width", 1.3);

// ---- titles
svg.append("text")
  .attr("x", (plotLeft + plotRight) / 2).attr("y", 19.5)
  .attr("text-anchor", "middle").attr("font-size", 18.3)
  .text(title);

svg.append("text")
  .attr("x", (plotLeft + plotRight) / 2).attr("y", 415)
  .attr("text-anchor", "middle").attr("font-size", 22.5)
  .text(xLabel);

svg.append("text")
  .attr("transform", `translate(31,${(plotTop + plotBottom) / 2}) rotate(-90)`)
  .attr("text-anchor", "middle").attr("font-size", 22.5)
  .text(yLabel);

// ---- legend
const legend = svg.append("g");
legend.append("rect")
  .attr("x", 95.5).attr("y", 306.5).attr("width", 204).attr("height", 53.5).attr("rx", 3)
  .attr("fill", "#fff").attr("fill-opacity", 0.8)
  .attr("stroke", "#777").attr("stroke-width", 1);

const markerSpots = [[106.7, 0.5], [118.3, -1], [130, 1.2]];
seriesNames.forEach((name, i) => {
  const rowY = 320.5 + i * 24;
  legend.append("g").selectAll("circle")
    .data(markerSpots)
    .join("circle")
    .attr("cx", (d) => d[0]).attr("cy", (d) => rowY + d[1])
    .attr("r", dotRadius)
    .attr("fill", seriesColors[i]).attr("fill-opacity", 0.72);
  legend.append("text")
    .attr("x", 150).attr("y", rowY + 6)
    .attr("font-size", 17)
    .text(name);
});
</script>
</body>
</html>
